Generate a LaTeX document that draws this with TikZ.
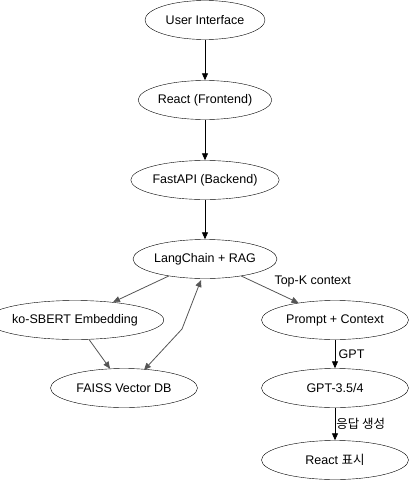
\documentclass[tikz,border=0pt]{standalone}
\usepackage{fontspec}
\setmainfont{Liberation Sans}
\newfontfamily\kor{Noto Sans CJK KR}
\usepackage{tikz}
\usetikzlibrary{shapes.geometric,arrows.meta}
\definecolor{edgegray}{HTML}{555555}

\begin{document}
\begin{tikzpicture}[x=1pt,y=-1pt,font=\fontsize{12.5}{14}\selectfont,
		box/.style={ellipse,draw,inner sep=0pt,minimum width=120pt,minimum height=39pt},
		wide/.style={box,minimum width=147pt},
		flow/.style={-{Triangle[length=7pt,width=6pt]},thick},
		side/.style={-{Triangle[length=7pt,width=6pt]},thick,edgegray}]
		\useasboundingbox (0,0) rectangle (409,482);

		\node[box] (ui) at (205,20) {User Interface};
		\node[box] (react) at (205,100) {React (Frontend)};
		\node[box] (api) at (205,180) {FastAPI (Backend)};
		\node[box,minimum width=124pt] (rag) at (205,259) {LangChain + RAG};
		\node[wide] (sbert) at (75,320) {ko-SBERT Embedding};
		\node[wide] (prompt) at (335,320) {Prompt + Context};
		\node[wide] (faiss) at (124,388) {FAISS Vector DB};
		\node[wide] (gpt) at (335,388) {GPT-3.5/4};
		\node[wide] (show) at (335,460) {React {\kor 표시}};
		\coordinate (dbend) at (144,370);
		\coordinate (kink) at (182,329);
		\coordinate (ragend) at (201,280);

		\draw[flow] (ui) -- (react);
		\draw[flow] (react) -- (api);
		\draw[flow] (api) -- (rag);
		\draw[side] (rag) -- (sbert);
		\draw[side] (rag) -- node[above right,black,pos=0.55,xshift=-2pt] {Top-K context} (prompt);
		\draw[side] (sbert) -- (faiss);
		\draw[side,{Triangle[length=7pt,width=6pt]}-{Triangle[length=7pt,width=6pt]}] (dbend) -- (kink) -- (ragend);
		\draw[flow] (prompt) -- node[right] {GPT} (gpt);
		\draw[flow] (gpt) -- node[right,inner sep=1pt] {\kor 응답 생성} (show);
	\end{tikzpicture}
\end{document}
